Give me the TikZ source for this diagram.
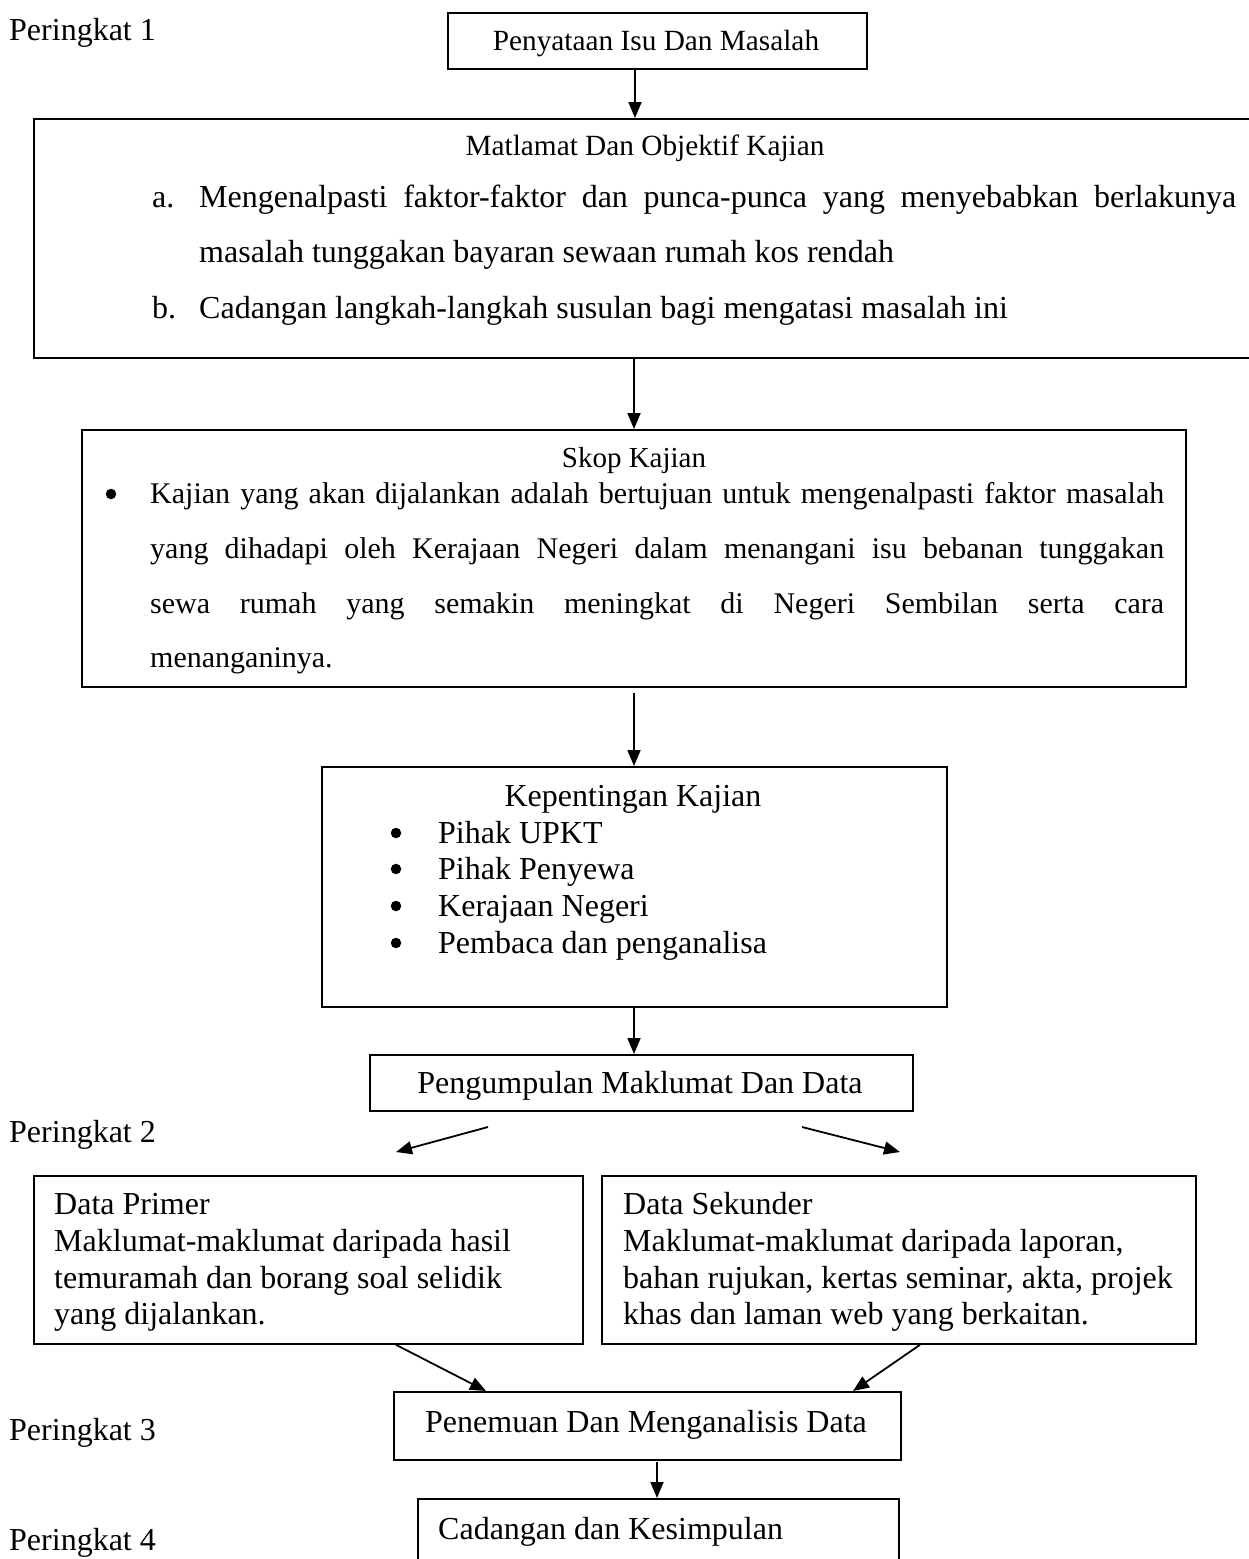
\documentclass[tikz,border=0pt]{standalone}
\usepackage{fontspec}
\setmainfont{Liberation Serif}
\usetikzlibrary{arrows.meta}
\newcommand\fs[1]{\fontsize{#1}{#1}\selectfont}
\begin{document}
\begin{tikzpicture}[x=1pt,y=-1pt,
  box/.style={draw, line width=1.8pt, inner sep=0pt, anchor=north west},
  arr/.style={line width=1.8pt, -{Triangle[length=16pt,width=13pt]}},
  txt/.style={inner sep=0pt, anchor=base west},
  ctxt/.style={inner sep=0pt, anchor=base},
  big/.style={font=\fs{32}},
  bul/.style={circle, fill, inner sep=0pt, minimum size=10.5pt},
]
\useasboundingbox (0,0) rectangle (1249,1559);
\clip (0,0) rectangle (1249,1559);

% boxes
\node[box, minimum width=419pt, minimum height=56pt]  (b1) at (447,12) {};
\node[box, minimum width=1240pt, minimum height=239pt] (b2) at (33,118) {};
\node[box, minimum width=1104pt, minimum height=257pt] (b3) at (81,429) {};
\node[box, minimum width=625pt, minimum height=240pt]  (b4) at (321,766) {};
\node[box, minimum width=543pt, minimum height=56pt]   (b5) at (369,1054) {};
\node[box, minimum width=549pt, minimum height=168pt]  (b6) at (33,1175) {};
\node[box, minimum width=594pt, minimum height=168pt]  (b7) at (601,1175) {};
\node[box, minimum width=507pt, minimum height=68pt]   (b8) at (393,1391) {};
\node[box, minimum width=481pt, minimum height=120pt]  (b9) at (417,1498) {};

% stage labels
\node[txt, big] (p1) at (9,40) {Peringkat 1};
\node[txt, big] (p2) at (9,1142) {Peringkat 2};
\node[txt, big] (p3) at (9,1440) {Peringkat 3};
\node[txt, big] (p4) at (9,1550) {Peringkat 4};

% box 1
\node[ctxt, font=\fs{29.3}] (t1) at (656,50) {Penyataan Isu Dan Masalah};

% box 2
\node[ctxt, font=\fs{29.3}] (t2) at (645,155) {Matlamat Dan Objektif Kajian};
\node[txt, big] (t2a) at (152,207) {a.};
\node[txt, big] (t2a1) at (199,207) {\makebox[1037pt][s]{Mengenalpasti faktor-faktor dan punca-punca yang menyebabkan berlakunya}};
\node[txt, big] (t2a2) at (199,262) {masalah tunggakan bayaran sewaan rumah kos rendah};
\node[txt, big] (t2b) at (152,318) {b.};
\node[txt, big] (t2b1) at (199,318) {Cadangan langkah-langkah susulan bagi mengatasi masalah ini};

% box 3
\node[ctxt, font=\fs{29}] (t3) at (634,467) {Skop Kajian};
\node[bul] (t3bul) at (111,494) {};
\node[txt, font=\fs{30}] (t3l1) at (150,503) {\makebox[1014pt][s]{Kajian yang akan dijalankan adalah bertujuan untuk mengenalpasti faktor masalah}};
\node[txt, font=\fs{30}] (t3l2) at (150,558) {\makebox[1014pt][s]{yang dihadapi oleh Kerajaan Negeri dalam menangani isu bebanan tunggakan}};
\node[txt, font=\fs{30}] (t3l3) at (150,613) {\makebox[1014pt][s]{sewa rumah yang semakin meningkat di Negeri Sembilan serta cara}};
\node[txt, font=\fs{30}] (t3l4) at (150,667) {menanganinya.};

% box 4
\node[ctxt, big] (t4) at (633,806) {Kepentingan Kajian};
\node[bul] (t4b1) at (396,833) {};
\node[bul] (t4b2) at (396,869) {};
\node[bul] (t4b3) at (396,906) {};
\node[bul] (t4b4) at (396,943) {};
\node[txt, big] (t4l1) at (438,843) {Pihak UPKT};
\node[txt, big] (t4l2) at (438,879) {Pihak Penyewa};
\node[txt, big] (t4l3) at (438,916) {Kerajaan Negeri};
\node[txt, big] (t4l4) at (438,953) {Pembaca dan penganalisa};

% box 5
\node[ctxt, big] (t5) at (640,1093) {Pengumpulan Maklumat Dan Data};

% box 6
\node[txt, big] (t6a) at (54,1214) {Data Primer};
\node[txt, big] (t6b) at (54,1251) {Maklumat-maklumat daripada hasil};
\node[txt, big] (t6c) at (54,1288) {temuramah dan borang soal selidik};
\node[txt, big] (t6d) at (54,1324) {yang dijalankan.};

% box 7
\node[txt, big] (t7a) at (623,1214) {Data Sekunder};
\node[txt, big] (t7b) at (623,1251) {Maklumat-maklumat daripada laporan,};
\node[txt, big] (t7c) at (623,1288) {bahan rujukan, kertas seminar, akta, projek};
\node[txt, big] (t7d) at (623,1324) {khas dan laman web yang berkaitan.};

% box 8
\node[ctxt, big] (t8) at (646,1432) {Penemuan Dan Menganalisis Data};

% box 9
\node[txt, big] (t9) at (438,1539) {Cadangan dan Kesimpulan};

% connectors
\coordinate (a1) at (635,68);
\coordinate (a2) at (634,358);
\coordinate (a3) at (634,693);
\coordinate (a4) at (634,1008);
\coordinate (a5s) at (488,1127);
\coordinate (a5e) at (396,1152);
\coordinate (a6s) at (802,1127);
\coordinate (a6e) at (900,1152);
\coordinate (a7s) at (396,1343);
\coordinate (a7e) at (486,1391);
\coordinate (a8s) at (920,1343);
\coordinate (a8e) at (853,1391);
\coordinate (a9) at (657,1462);

\draw[arr] (b1.south -| a1) -- (b2.north -| a1);
\draw[arr] (b2.south -| a2) -- (b3.north -| a2);
\draw[arr] (a3) -- (b4.north -| a3);
\draw[arr] (b4.south -| a4) -- (b5.north -| a4);
\draw[arr] (a5s) -- (a5e);
\draw[arr] (a6s) -- (a6e);
\draw[arr] (b6.south -| a7s) -- (b8.north -| a7e);
\draw[arr] (b7.south -| a8s) -- (b8.north -| a8e);
\draw[arr] (a9) -- (b9.north -| a9);
\end{tikzpicture}
\end{document}
